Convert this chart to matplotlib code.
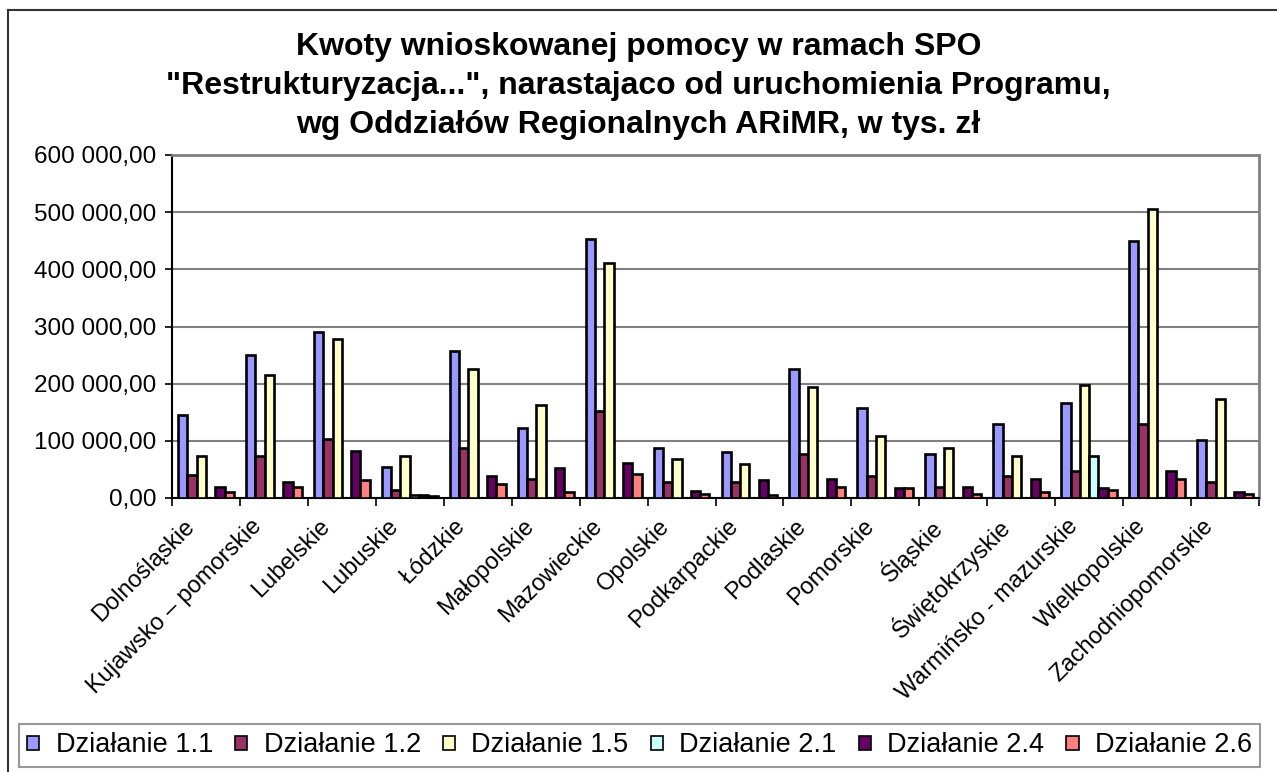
import numpy as np
import matplotlib.pyplot as plt
from matplotlib.lines import Line2D
from matplotlib.ticker import FuncFormatter, MultipleLocator
from matplotlib.transforms import ScaledTranslation

plt.rcParams['font.family'] = ['Liberation Sans', 'DejaVu Sans']

regions = ["Dolnośląskie", "Kujawsko – pomorskie", "Lubelskie", "Lubuskie",
           "Łódzkie", "Małopolskie", "Mazowieckie", "Opolskie", "Podkarpackie",
           "Podlaskie", "Pomorskie", "Śląskie", "Świętokrzyskie",
           "Warmińsko - mazurskie", "Wielkopolskie", "Zachodniopomorskie"]

# values in tys. zł
dz_1_1 = [146000, 251000, 290000, 55000, 258000, 122000, 453000, 87000,
          80000, 226000, 157000, 77000, 129000, 167000, 450000, 101000]
dz_1_2 = [41000, 73000, 104000, 14000, 87000, 34000, 153000, 28000,
          28000, 77000, 38000, 20000, 38000, 48000, 129000, 28000]
dz_1_5 = [73000, 216000, 279000, 73000, 226000, 163000, 411000, 69000,
          59000, 195000, 108000, 87000, 73000, 198000, 506000, 174000]
dz_2_1 = [0, 0, 0, 6000, 0, 0, 0, 0,
          0, 0, 0, 0, 0, 73000, 0, 0]
dz_2_4 = [20000, 28000, 83000, 6000, 38000, 52000, 62000, 13000,
          31000, 34000, 17000, 20000, 34000, 17000, 48000, 10500]
dz_2_6 = [10500, 20000, 31000, 3000, 24000, 10500, 42000, 7000,
          6000, 20000, 17000, 7000, 10500, 14000, 34000, 7000]

series = [("Działanie 1.1", dz_1_1, "#9999FF"),
          ("Działanie 1.2", dz_1_2, "#993366"),
          ("Działanie 1.5", dz_1_5, "#FFFFCC"),
          ("Działanie 2.1", dz_2_1, "#CCFFFF"),
          ("Działanie 2.4", dz_2_4, "#660066"),
          ("Działanie 2.6", dz_2_6, "#FF8080")]

fig = plt.figure(figsize=(12.77, 7.72), dpi=100)
ax = fig.add_axes([172 / 1277, 1 - 498 / 772, (1259 - 172) / 1277, (498 - 155) / 772])

x = np.arange(len(regions))
w = 1 / 7.3
for i, (name, vals, col) in enumerate(series):
    ax.bar(x + (i - 2.5) * w, vals, width=w, color=col, edgecolor="black",
           linewidth=1.9, label=name, zorder=3)

ax.set_xlim(-0.5, len(regions) - 0.5)
ax.set_ylim(0, 600000)
ax.yaxis.set_major_locator(MultipleLocator(100000))


def pl_fmt(v, pos):
    s = f"{v:,.2f}"
    return s.replace(",", " ").replace(".", ",")


ax.yaxis.set_major_formatter(FuncFormatter(pl_fmt))
ax.grid(axis="y", color="#808080", linewidth=1.5, zorder=0)
ax.tick_params(axis="y", labelsize=17.5, length=5, width=1.2, pad=6)

ax.set_xticks(x)
ax.set_xticklabels(regions, rotation=45, ha="right", va="center",
                   rotation_mode="anchor", fontsize=17)
ax.tick_params(axis="x", which="major", length=0, pad=16)
ax.set_xticks(np.arange(len(regions) + 1) - 0.5, minor=True)
ax.tick_params(axis="x", which="minor", length=6, width=1.2)
shift = ScaledTranslation(-15 / 100, -3 / 100, fig.dpi_scale_trans)
for lab in ax.get_xticklabels():
    lab.set_transform(lab.get_transform() + shift)

for s in ("top", "right"):
    ax.spines[s].set_color("#808080")
    ax.spines[s].set_linewidth(2)
for s in ("left", "bottom"):
    ax.spines[s].set_color("black")
    ax.spines[s].set_linewidth(1.5)

fig.text(0.5, 1 - 86 / 772,
         "Kwoty wnioskowanej pomocy w ramach SPO\n"
         "\"Restrukturyzacja...\", narastajaco od uruchomienia Programu,\n"
         "wg Oddziałów Regionalnych ARiMR, w tys. zł",
         ha="center", va="center", fontsize=23, fontweight="bold",
         linespacing=1.4)

# chart area border (left and top only visible)
fig.add_artist(Line2D([8 / 1277, 8 / 1277], [0, 1 - 10 / 772], color="#333333", lw=1.5))
fig.add_artist(Line2D([8 / 1277, 1], [1 - 10 / 772, 1 - 10 / 772], color="#333333", lw=1.5))

leg = fig.legend(loc="center", bbox_to_anchor=(19 / 1277, 1 - 768 / 772, (1260 - 19) / 1277, 45 / 772),
                 mode="expand", ncol=6, fontsize=19.5, frameon=True, fancybox=False,
                 edgecolor="#808080", handlelength=0.45, handleheight=0.45,
                 handletextpad=0.6, columnspacing=0.5, borderpad=0.3,
                 borderaxespad=0)
leg.get_frame().set_linewidth(1.5)
for h in leg.legend_handles:
    h.set_linewidth(1.2)

fig.savefig("out.png", dpi=100)
